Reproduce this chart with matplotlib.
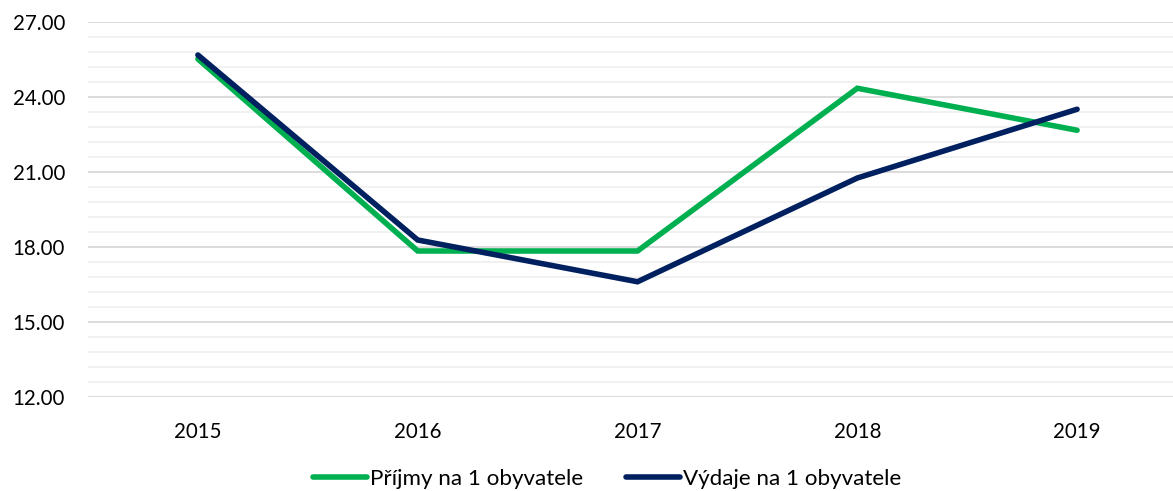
import matplotlib
matplotlib.use("Agg")
import matplotlib.pyplot as plt
import numpy as np
from matplotlib.ticker import MultipleLocator, FormatStrFormatter

years = ["2015", "2016", "2017", "2018", "2019"]
prijmy = [25.52, 17.84, 17.84, 24.35, 22.67]
vydaje = [25.68, 18.28, 16.61, 20.76, 23.51]
series_names = ["Příjmy na 1 obyvatele", "Výdaje na 1 obyvatele"]

plt.rcParams['font.family'] = ['Lato', 'DejaVu Sans']

W, H = 1173, 491
fig = plt.figure(figsize=(W/100, H/100), dpi=100)
ax = fig.add_axes([88/W, (H-397)/H, (1187-88)/W, 375/H])

x = np.arange(len(years))
ax.plot(x, prijmy, color="#00B050", lw=4.0, solid_capstyle="round", solid_joinstyle="miter", label=series_names[0], zorder=3)
ax.plot(x, vydaje, color="#002060", lw=4.0, solid_capstyle="round", solid_joinstyle="miter", label=series_names[1], zorder=4)

ax.set_xlim(-0.5, len(years)-0.5)
ax.set_ylim(12, 27)
ax.yaxis.set_major_locator(MultipleLocator(3))
ax.yaxis.set_minor_locator(MultipleLocator(0.6))
ax.yaxis.set_major_formatter(FormatStrFormatter("%.2f"))
ax.set_xticks(x)
ax.set_xticklabels(years)
ax.grid(axis="y", which="major", color="#D9D9D9", lw=1.3)
ax.grid(axis="y", which="minor", color="#F0F0F0", lw=1.3)
ax.set_axisbelow(True)
for s in ax.spines.values():
    s.set_visible(False)
ax.tick_params(axis="both", which="both", length=0, labelsize=14.8, colors="#000000")
ax.tick_params(axis="y", pad=16.5)
ax.tick_params(axis="x", pad=18)

fig.legend(loc="center", bbox_to_anchor=(607/W, 12/H), ncol=2, frameon=False,
           fontsize=16.1, handlelength=2.45, handletextpad=0.12, columnspacing=1.9)

fig.savefig("out.png", dpi=100)
